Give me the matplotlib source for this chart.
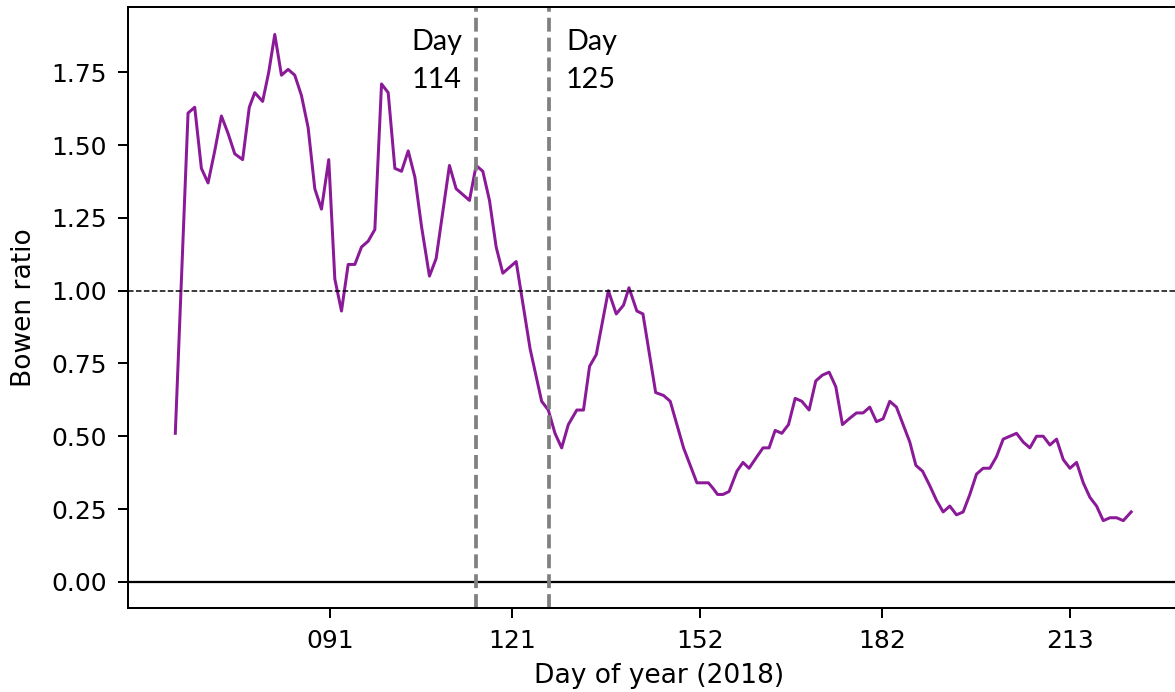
import matplotlib
matplotlib.use("Agg")
import matplotlib.pyplot as plt

# Bowen ratio (x in day-of-year axis units)
doy = [65.5, 67.6, 68.7, 69.8, 70.9, 72.0, 73.1, 74.2, 75.3, 76.6,
       77.7, 78.6, 79.9, 80.9, 81.9, 83.0, 84.1, 85.2, 86.3, 87.4,
       88.5, 89.6, 90.8, 91.8, 92.9, 94.0, 95.1, 96.2, 97.3, 98.4,
       99.5, 100.6, 101.7, 102.8, 103.9, 105.0, 106.1, 107.4, 108.5, 109.6,
       110.7, 111.8, 112.9, 114.0, 115.1, 116.2, 117.3, 118.4, 119.5, 120.6,
       121.7, 124.0, 125.9, 127.0, 128.1, 129.2, 130.3, 131.7, 132.8, 133.8,
       134.9, 136.9, 138.2, 139.4, 140.3, 141.6, 142.6, 144.7, 146.0, 147.1,
       148.2, 149.3, 150.4, 151.5, 153.4, 154.2, 154.9, 155.8, 156.8, 158.1,
       159.1, 160.1, 161.4, 162.4, 163.4, 164.4, 165.5, 166.6, 167.7, 168.8,
       170.0, 171.1, 172.2, 173.3, 174.4, 175.5, 176.6, 177.8, 178.9, 180.0,
       181.1, 182.2, 183.3, 184.4, 185.5, 186.6, 187.6, 188.7, 189.9, 191.0,
       192.1, 193.2, 194.3, 195.4, 196.5, 197.6, 198.7, 199.8, 200.9, 202.0,
       203.1, 204.2, 205.3, 206.4, 207.5, 208.6, 209.7, 210.8, 211.9, 213.0,
       214.1, 215.2, 216.3, 217.4, 218.5, 219.6, 220.7, 221.8, 223.1]
bowen = [0.51, 1.61, 1.63, 1.42, 1.37, 1.48, 1.60, 1.54, 1.47, 1.45,
         1.63, 1.68, 1.65, 1.75, 1.88, 1.74, 1.76, 1.74, 1.67, 1.56,
         1.35, 1.28, 1.45, 1.04, 0.93, 1.09, 1.09, 1.15, 1.17, 1.21,
         1.71, 1.68, 1.42, 1.41, 1.48, 1.39, 1.22, 1.05, 1.11, 1.27,
         1.43, 1.35, 1.33, 1.31, 1.43, 1.41, 1.31, 1.15, 1.06, 1.08,
         1.10, 0.80, 0.62, 0.59, 0.51, 0.46, 0.54, 0.59, 0.59, 0.74,
         0.78, 1.00, 0.92, 0.95, 1.01, 0.93, 0.92, 0.65, 0.64, 0.62,
         0.54, 0.46, 0.40, 0.34, 0.34, 0.32, 0.30, 0.30, 0.31, 0.38,
         0.41, 0.39, 0.43, 0.46, 0.46, 0.52, 0.51, 0.54, 0.63, 0.62,
         0.59, 0.69, 0.71, 0.72, 0.67, 0.54, 0.56, 0.58, 0.58, 0.60,
         0.55, 0.56, 0.62, 0.60, 0.54, 0.48, 0.40, 0.38, 0.33, 0.28,
         0.24, 0.26, 0.23, 0.24, 0.30, 0.37, 0.39, 0.39, 0.43, 0.49,
         0.50, 0.51, 0.48, 0.46, 0.50, 0.50, 0.47, 0.49, 0.42, 0.39,
         0.41, 0.34, 0.29, 0.26, 0.21, 0.22, 0.22, 0.21, 0.24]

tick_days = [91, 121, 152, 182, 213]
tick_labels = ["091", "121", "152", "182", "213"]

# the two marked days (line positions as they sit on the axis)
event_pos = [115.1, 127.1]
event_labels = ["Day\n114", "Day\n125"]

W, H = 1175, 692
fig = plt.figure(figsize=(W / 180, H / 180), dpi=180)
ax = fig.add_axes([128 / W, (H - 608) / H, (1190 - 128) / W, (608 - 6.5) / H])

ax.plot(doy, bowen, color="#8b1a98", lw=1.2)
ax.axhline(1.0, color="k", ls="--", lw=0.6)
ax.axhline(0.0, color="k", lw=0.9)
for x in event_pos:
    ax.axvline(x, color="grey", ls="--", lw=1.5)

for x, lab in zip(event_pos, event_labels):
    ax.text(x - 10.6 if lab.endswith("114") else x + 2.8, 1.898, lab,
            family="Lato", fontsize=11.5, va="top", ha="left",
            linespacing=1.55)

ax.set_xlim(57.7, 232.8)
ax.set_ylim(-0.090, 1.976)
ax.set_xticks(tick_days)
ax.set_xticklabels(tick_labels)
ax.set_yticks([0, 0.25, 0.5, 0.75, 1.0, 1.25, 1.5, 1.75])
ax.set_yticklabels(["0.00", "0.25", "0.50", "0.75", "1.00", "1.25", "1.50", "1.75"])
ax.tick_params(length=4, pad=4.5, labelsize=10)
ax.set_xlabel("Day of year (2018)", fontsize=10.6, labelpad=4)
ax.set_ylabel("Bowen ratio", fontsize=10.6, labelpad=5.5)

fig.savefig("out.png", dpi=180)
